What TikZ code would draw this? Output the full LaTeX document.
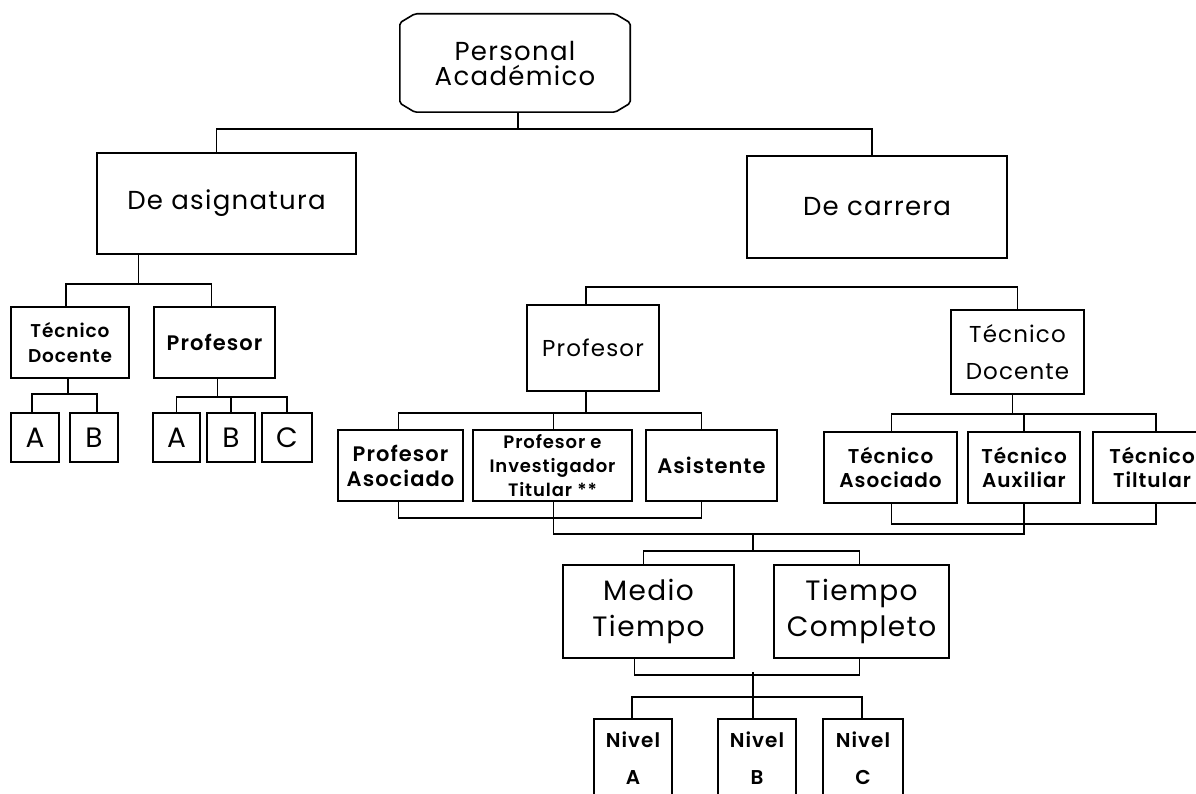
\documentclass[tikz,border=0pt]{standalone}
\usepackage{fontspec}
\setmainfont{Poppins}[LetterSpace=5, BoldFont={Poppins SemiBold}]

\begin{document}
\begin{tikzpicture}[x=1pt,y=-1pt]
%	\draw[gray,very thin] (0,0) grid[step=50] (1196,794); % Raster zur Orientierung
	\tikzstyle{box} = [
		rectangle, draw=black, line width=1.6pt, inner sep=0pt, align=center
	]
	\tikzstyle{conn} = [
		line width=1.6pt
	]
	\tikzstyle{txt_title} = [font=\fontsize{26}{25}\selectfont]
	\tikzstyle{txt_big} = [font=\fontsize{28}{36}\selectfont]
	\tikzstyle{txt_mid} = [font=\fontsize{23}{37}\selectfont]
	\tikzstyle{txt_small} = [font=\bfseries\fontsize{20}{24}\selectfont]
	\tikzstyle{txt_tiny} = [font=\bfseries\fontsize{18}{24}\selectfont]

	\useasboundingbox (0,0) rectangle (1196,794);
	\clip (0,0) rectangle (1196,794);

	% Personal academico
	\node (pers) [txt_title, align=center, inner sep=0pt, minimum width=230, minimum height=98] at (515,63) {Personal\\Académico};
	\draw[conn, rounded corners=2pt] ([xshift=15]pers.north west) -- ([xshift=-15]pers.north east)
		-- ([yshift=-9]pers.north east) -- ([yshift=9]pers.south east)
		-- ([xshift=-15]pers.south east) -- ([xshift=15]pers.south west)
		-- ([yshift=9]pers.south west) -- ([yshift=-9]pers.north west) -- cycle;

	% Erste Ebene
	\node (asig) [box, txt_title, minimum width=259, minimum height=101] at (226.5,203.5) {De asignatura};
	\node (carr) [box, txt_title, minimum width=260, minimum height=102] at (877,207) {De carrera};

	% De asignatura
	\node (tdL) [box, font=\bfseries\fontsize{18.5}{25}\selectfont, minimum width=118, minimum height=71] at (70,342.5) {Técnico\\Docente};
	\node (profL) [box, font=\bfseries\fontsize{21}{25}\selectfont, minimum width=121, minimum height=71] at (214.5,342.5) {Profesor};
	\node (tdLA) [box, txt_big, minimum width=48, minimum height=49] at (35,437.5) {A};
	\node (tdLB) [box, txt_big, minimum width=48, minimum height=49] at (94,437.5) {B};
	\node (profLA) [box, txt_big, minimum width=47, minimum height=49] at (176.5,437.5) {A};
	\node (profLB) [box, txt_big, minimum width=48, minimum height=49] at (231,437.5) {B};
	\node (profLC) [box, txt_big, minimum width=50, minimum height=49] at (287,437.5) {C};

	% De carrera
	\node (profC) [box, txt_mid, minimum width=132, minimum height=86] at (593,348) {Profesor};
	\node (tdR) [box, txt_mid, minimum width=133, minimum height=84] at (1017.5,352) {Técnico\\Docente};

	% Profesor
	\node (asoc) [box, font=\bfseries\fontsize{21}{25}\selectfont, minimum width=125, minimum height=71] at (400.5,465.5) {Profesor\\Asociado};
	\node (invest) [box, txt_tiny, minimum width=159, minimum height=71] at (552.5,465.5) {Profesor e\\Investigador\\Titular **};
	\node (asist) [box, font=\bfseries\fontsize{21}{25}\selectfont, minimum width=131, minimum height=71] at (711.5,465.5) {Asistente};

	% Tecnico docente
	\node (tAsoc) [box, txt_small, minimum width=133, minimum height=71] at (890.5,467.5) {Técnico\\Asociado};
	\node (tAux) [box, txt_small, minimum width=112, minimum height=71] at (1024,467.5) {Técnico\\Auxiliar};
	\node (tTit) [box, txt_small, minimum width=118, minimum height=71] at (1152,467.5) {Técnico\\Tiltular};

	% Tiempo
	\node (medio) [box, txt_big, minimum width=171, minimum height=93] at (648.5,611.5) {Medio\\Tiempo};
	\node (tcomp) [box, txt_big, minimum width=175, minimum height=93] at (861.5,611.5) {Tiempo\\Completo};

	% Nivel
	\node (nivA) [box, font=\bfseries\fontsize{20}{37}\selectfont, minimum width=78, minimum height=78] at (633,758) {Nivel\\A};
	\node (nivB) [box, font=\bfseries\fontsize{20}{37}\selectfont, minimum width=78, minimum height=78] at (757,758) {Nivel\\B};
	\node (nivC) [box, font=\bfseries\fontsize{20}{37}\selectfont, minimum width=80, minimum height=78] at (863,758) {Nivel\\C};

	% Personal -> asignatura / carrera
	\draw[conn] ([xshift=3]pers.south) -- ++(0,17) coordinate (jTop);
	\draw[conn] ([xshift=-10]asig.north) |- (jTop) -| ([xshift=-5]carr.north);

	% asignatura -> tecnico / profesor
	\draw[conn] ([xshift=-88]asig.south) -- ++(0,29) coordinate (jAsig);
	\draw[conn] ([xshift=-4]tdL.north) |- (jAsig) -| ([xshift=-3]profL.north);
	\draw[conn] ([xshift=-2]tdL.south) -- ++(0,15) coordinate (jTdL);
	\draw[conn] ([xshift=-3]tdLA.north) |- (jTdL) -| ([xshift=3]tdLB.north);
	\draw[conn] ([xshift=3]profL.south) -- ++(0,18) coordinate (jProfL);
	\draw[conn] (profLA.north) |- (jProfL) -| (profLC.north);
	\draw[conn] (profLB.north) -- (profLB.north |- jProfL);

	% carrera: profesor / tecnico docente
	\draw[conn] ([xshift=-7]profC.north) -- ++(0,-17) -| (tdR.north);
	\draw[conn] ([xshift=-7]profC.south) -- ++(0,21) coordinate (jProfC);
	\draw[conn] ([xshift=-2]asoc.north) |- (jProfC) -| ([xshift=-10]asist.north);
	\draw[conn] ([xshift=1]invest.north) -- ([xshift=1]invest.north |- jProfC);
	\draw[conn] ([xshift=-5]tdR.south) -- ++(0,19) coordinate (jTdR);
	\draw[conn] ([xshift=1]tAsoc.north) |- (jTdR) -| ([xshift=4]tTit.north);
	\draw[conn] (tAux.north) -- (tAux.north |- jTdR);

	% untere Klammern
	\draw[conn] ([xshift=-2]asoc.south) -- ++(0,16) -| ([xshift=-10]asist.south);
	\draw[conn] ([xshift=1]tAsoc.south) -- ++(0,20) -| ([xshift=4]tTit.south);
	\draw[conn] ([xshift=1]invest.south) -- ++(0,32) coordinate (jMid) -| (tAux.south);
	\coordinate (hub) at (753,533);

	% -> Medio / Completo
	\draw[conn] (hub) -- ++(0,18) coordinate (hubLow);
	\draw[conn] ([xshift=-5]medio.north) |- (hubLow) -| ([xshift=-2]tcomp.north);
	\draw[conn] ([xshift=-14]medio.south) -- ++(0,16) -| ([xshift=-2]tcomp.south);

	% -> Nivel
	\draw[conn] ([xshift=-4]nivB.north) -- ++(0,-46);
	\draw[conn] ([xshift=-1]nivA.north) |- ++(0,-21) -| ([xshift=-1]nivC.north);

\end{tikzpicture}
\end{document}
